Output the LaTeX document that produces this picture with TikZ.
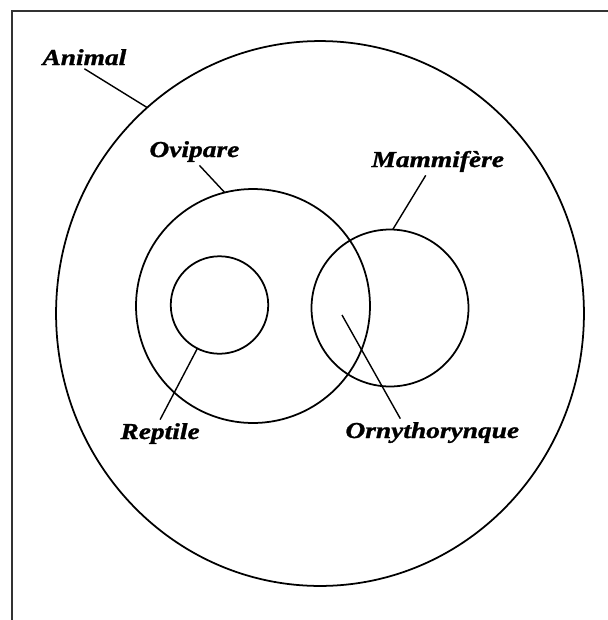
\documentclass[tikz,border=0pt]{standalone}
\usepackage{fontspec}
\newfontfamily\lblfont[FakeStretch=1.2, BoldItalicFeatures={FakeBold=1.2}]{Liberation Serif}
\usetikzlibrary{shapes.geometric,calc}
\tikzset{
  lbl/.style={inner sep=0pt, outer sep=2pt, font=\lblfont\bfseries\itshape\fontsize{13}{15}\selectfont},
  set/.style={draw, inner sep=0pt, outer sep=0pt, line width=1pt},
  lead/.style={line width=.8pt}
}
\begin{document}
\begin{tikzpicture}[x=0.02cm, y=-0.02cm]
\useasboundingbox (0,0) rectangle (608,620);
\draw[line width=.6pt, black!80] (608,11)--(12,11)--(12,620);
\node[set, ellipse, minimum width=10.56cm, minimum height=10.9cm] (animal) at (320,313.5) {};
\node[set, circle, minimum size=4.68cm] (ovipare) at (253,306) {};
\node[set, circle, minimum size=1.95cm] (reptile) at (219.5,305) {};
\node[set, circle, minimum size=3.14cm] (mammifere) at (390,308) {};
\coordinate (orny) at (342,315);
\node[lbl, anchor=base west] (lAnimal) at (39,65) {Animal};
\node[lbl, anchor=base west] (lOvipare) at (146,157) {Ovipare};
\node[lbl, anchor=base west] (lMammifere) at (368,167) {Mammifère};
\node[lbl, anchor=base west] (lReptile) at (117,439) {Reptile};
\node[lbl, anchor=base west] (lOrny) at (342,438) {Ornythorynque};
\draw[lead] (lAnimal.south) -- (animal.130.7);
\draw[lead] ($(lOvipare.south)+(5,0)$) -- (ovipare.104.7);
\draw[lead] ($(lMammifere.south)+(-12,0)$) -- (mammifere.88);
\draw[lead] (lReptile.north) -- (reptile.243.4);
\draw[lead] ($(lOrny.north)+(-32,0)$) -- (orny);
\end{tikzpicture}
\end{document}
